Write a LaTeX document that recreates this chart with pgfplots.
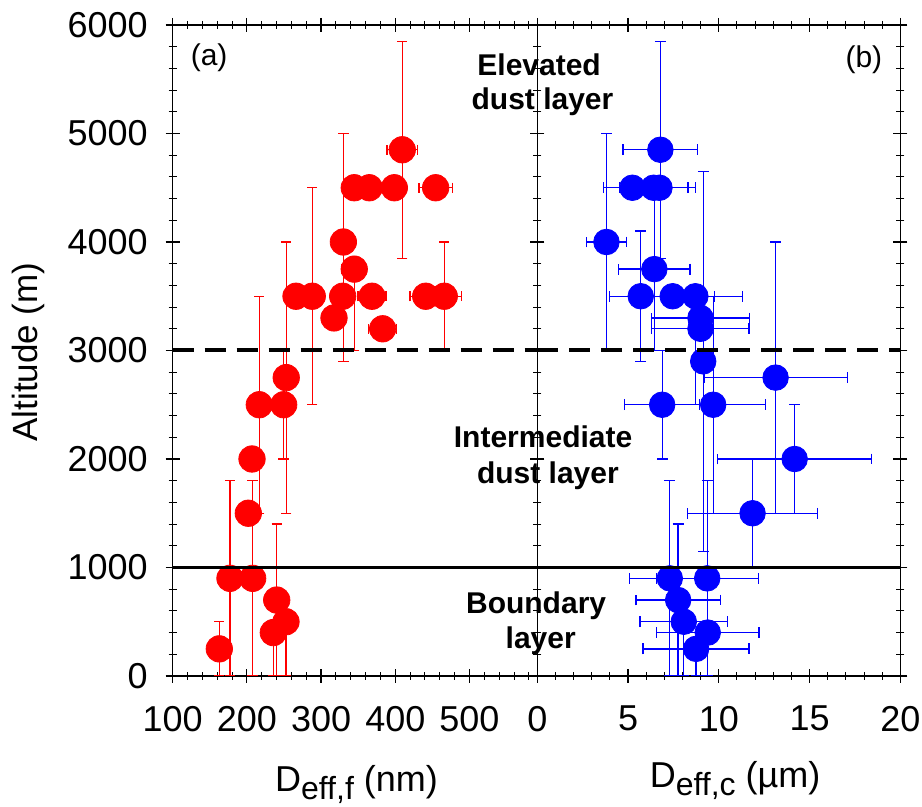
\documentclass[border=0pt]{standalone}
\usepackage{fontspec}
\setmainfont{Liberation Sans}
\usepackage{pgfplots}
\pgfplotsset{compat=1.18}
\usepackage{pgfplotstable}

\pgfplotstableread{
x y xe yp ym
409.4 4850 20.6 1000 1000
344.7 4500 15 0 0
365.0 4500 0 0 0
398.7 4500 0 0 0
454.4 4500 22.5 0 0
330.0 4000 0 1000 1100
344.7 3750 16.6 0 750
266.2 3500 0 0 0
288.1 3500 0 1000 1000
329.1 3500 0 0 0
368.6 3500 18.9 0 0
441.0 3500 21 0 0
466.0 3500 23 500 500
317.4 3300 0 0 0
383.0 3200 19 0 0
253.0 2750 0 1250 1250
216.7 2500 0 1000 1000
249.6 2500 0 500 500
206.9 2000 0 0 0
201.9 1500 0 0 0
177.2 900 0 900 900
207.8 900 0 900 900
240.2 700 0 700 700
252.7 500 0 0 500
235.6 400 0 0 400
162.8 250 0 250 250
}\redtab

\pgfplotstableread{
x y xe yp ym
6.78 4850 2.06 1000 1000
5.24 4500 1.58 0 0
6.41 4500 1.9 0 0
6.73 4500 2.0 0 0
3.81 4000 1.11 1000 1000
6.45 3750 1.96 750 750
5.70 3500 1.73 600 600
7.46 3500 2.3 0 0
8.71 3500 2.58 0 1000
8.99 3300 2.69 0 0
8.99 3200 2.68 0 0
9.14 2900 0 1750 1750
13.13 2750 3.95 1250 1250
6.88 2500 2.06 500 500
9.69 2500 2.89 1000 1000
14.18 2000 4.25 500 500
11.86 1500 3.57 500 500
7.30 900 2.21 900 900
9.36 900 2.81 900 900
7.76 700 2.32 700 700
8.07 500 2.41 0 500
9.39 400 2.82 0 400
8.75 250 2.92 0 250
}\bluetab

\newcommand{\subs}[1]{\raisebox{-0.22em}{\fontsize{16}{18}\selectfont #1}}

\begin{document}
\begin{tikzpicture}
\useasboundingbox (-86.35pt,-65.5pt) rectangle (374.65pt,338pt);
\pgfplotsset{
  every axis/.append style={
    scale only axis,
    height=325.5pt,
    ymin=0, ymax=6000,
    ytick={0,1000,...,6000},
    minor y tick num=4,
    tick align=center,
    major tick length=7pt,
    minor tick length=4pt,
    axis line style={line width=0.6pt},
    every tick/.style={black, line width=0.6pt},
    every minor tick/.style={black, line width=0.5pt},
    tick label style={font=\fontsize{18}{20}\selectfont},
    /pgf/number format/assume math mode=true,
    /pgf/number format/1000 sep={},
    xticklabel shift=8pt,
    yticklabel shift=5.5pt,
    clip mode=individual,
  },
}
\begin{axis}[
  name=L, at={(0,0)}, anchor=south west,
  width=182.3pt,
  xmin=100, xmax=591.4,
  xtick={100,200,...,500},
  minor xtick={120,140,...,580},
]
\addplot[only marks, mark=*, mark size=6.6pt, color=red, mark options={fill=red, draw=red},
  error bars/.cd, x dir=both, x explicit, y dir=both, y explicit,
  error bar style={line width=0.65pt, red},
  error mark options={rotate=90, mark size=2.6pt, line width=0.65pt, red}]
  table[x=x, y=y, x error=xe, y error plus=yp, y error minus=ym] {\redtab};
\addplot[black, line width=2pt, dash pattern=on 10.5pt off 5.5pt] coordinates {(100,3000) (591.4,3000)};
\addplot[black, line width=1.7pt] coordinates {(100,1000) (591.4,1000)};
\end{axis}
\begin{axis}[
  name=R, at={(182.3pt,0)}, anchor=south west,
  width=181.5pt,
  xmin=0, xmax=20,
  xtick={0,5,...,20},
  minor x tick num=4,
  yticklabels={},
]
\addplot[only marks, mark=*, mark size=6.4pt, color=blue, mark options={fill=blue, draw=blue},
  error bars/.cd, x dir=both, x explicit, y dir=both, y explicit,
  error bar style={line width=0.65pt, blue},
  error mark options={rotate=90, mark size=2.7pt, line width=0.65pt, blue}]
  table[x=x, y=y, x error=xe, y error plus=yp, y error minus=ym] {\bluetab};
\addplot[black, line width=2pt, dash pattern=on 10.5pt off 5.5pt] coordinates {(0,3000) (20,3000)};
\addplot[black, line width=1.7pt] coordinates {(0,1000) (20,1000)};
\end{axis}
% axis labels
\node[rotate=90, font=\fontsize{17.5}{20}\selectfont] at (-72.35pt,162pt) {Altitude (m)};
\node[anchor=base, font=\fontsize{18}{20}\selectfont] at (91.9pt,-58pt) {D\subs{eff,f} (nm)};
\node[anchor=base, font=\fontsize{18}{20}\selectfont] at (281.2pt,-56pt) {D\subs{eff,c} (µm)};
% panel letters
\node[font=\fontsize{15}{17}\selectfont] at (18.2pt,309pt) {(a)};
\node[font=\fontsize{15}{17}\selectfont] at (345.6pt,308pt) {(b)};
% layer annotations
\node[anchor=base, font=\fontsize{15}{17}\selectfont\bfseries] at (183.2pt,300pt) {Elevated};
\node[anchor=base, font=\fontsize{15}{17}\selectfont\bfseries] at (184.9pt,283.4pt) {dust layer};
\node[anchor=base, font=\fontsize{15}{17}\selectfont\bfseries] at (185.2pt,114.4pt) {Intermediate};
\node[anchor=base, font=\fontsize{15}{17}\selectfont\bfseries] at (187.6pt,96.4pt) {dust layer};
\node[anchor=base, font=\fontsize{15}{17}\selectfont\bfseries] at (181.7pt,31.4pt) {Boundary};
\node[anchor=base, font=\fontsize{15}{17}\selectfont\bfseries] at (184pt,13.8pt) {layer};
\end{tikzpicture}
\end{document}
